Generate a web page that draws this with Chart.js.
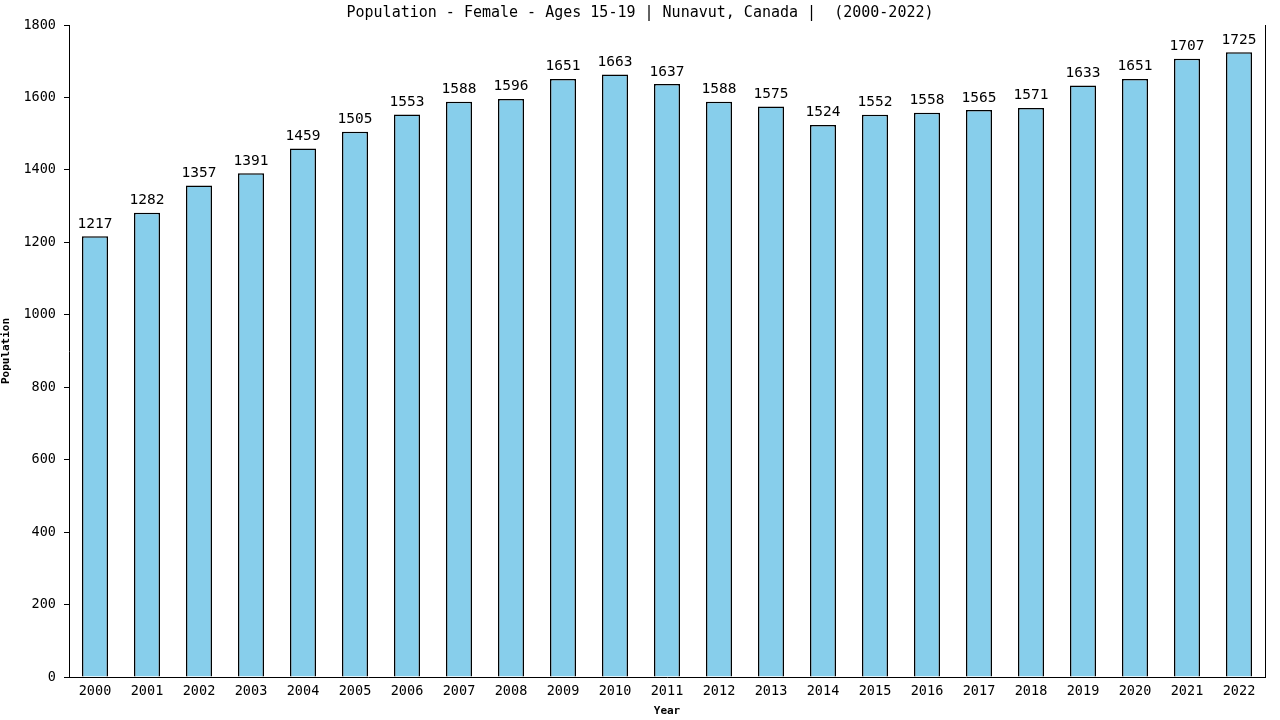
<!DOCTYPE html>
<html>
<head>
<meta charset="utf-8">
<script src="https://cdn.jsdelivr.net/npm/chart.js@4/dist/chart.umd.min.js"></script>
<style>
html,body{margin:0;padding:0;background:#fff;}
#wrap{width:1280px;height:720px;}
</style>
</head>
<body>
<div id="wrap"><canvas id="popChart" width="1280" height="720"></canvas></div>
<script>
const years=["2000","2001","2002","2003","2004","2005","2006","2007","2008","2009","2010","2011","2012","2013","2014","2015","2016","2017","2018","2019","2020","2021","2022"];
const population=[1217,1282,1357,1391,1459,1505,1553,1588,1596,1651,1663,1637,1588,1575,1524,1552,1558,1565,1571,1633,1651,1707,1725];
const chartTitle="Population - Female - Ages 15-19 | Nunavut, Canada |  (2000-2022)";
const MONO="'DejaVu Sans Mono', 'Liberation Mono', monospace";

// title, right frame line and value labels above bars
const extras={
id:"extras",
afterDraw(chart){
const ctx=chart.ctx;
const area=chart.chartArea;
ctx.save();
ctx.strokeStyle="#000";
ctx.lineWidth=1;
ctx.beginPath();
ctx.moveTo(area.right+0.5,area.top);
ctx.lineTo(area.right+0.5,area.bottom);
ctx.stroke();

ctx.fillStyle="#000";
ctx.font="15px "+MONO;
ctx.textAlign="center";
ctx.textBaseline="middle";
ctx.fillText(chartTitle,640,13);

ctx.font="14.5px "+MONO;
ctx.textBaseline="bottom";
const meta=chart.getDatasetMeta(0);
meta.data.forEach((bar,i)=>{
ctx.fillText(String(population[i]),bar.x,bar.y-5);
});
ctx.restore();
}
};

new Chart(document.getElementById("popChart"),{
type:"bar",
data:{
labels:years,
datasets:[{
data:population,
backgroundColor:"#87CEEB",
borderColor:"#000",
borderWidth:1.5,
barPercentage:0.5,
categoryPercentage:1
}]
},
options:{
responsive:false,
animation:false,
layout:{padding:{top:25,right:15,left:0,bottom:0}},
plugins:{legend:{display:false},tooltip:{enabled:false}},
scales:{
x:{
grid:{display:false,drawTicks:false},
border:{display:true,color:"#000",width:1},
ticks:{color:"#000",font:{family:MONO,size:13.5},padding:6,maxRotation:0,autoSkip:false},
title:{display:true,text:"Year",color:"#000",font:{family:MONO,size:11,weight:"bold"},padding:{top:3,bottom:2}},
afterFit(s){s.height=43;}
},
y:{
min:0,max:1800,
grid:{display:true,drawOnChartArea:false,drawTicks:true,tickLength:5,color:"#000"},
border:{display:true,color:"#000",width:1},
ticks:{stepSize:200,color:"#000",font:{family:MONO,size:13.5},padding:8,callback:v=>String(v)},
title:{display:true,text:"Population",color:"#000",font:{family:MONO,size:11,weight:"bold"},padding:{top:0,bottom:0}},
afterFit(s){s.width=69;}
}
}
},
plugins:[extras]
});
</script>
</body>
</html>
